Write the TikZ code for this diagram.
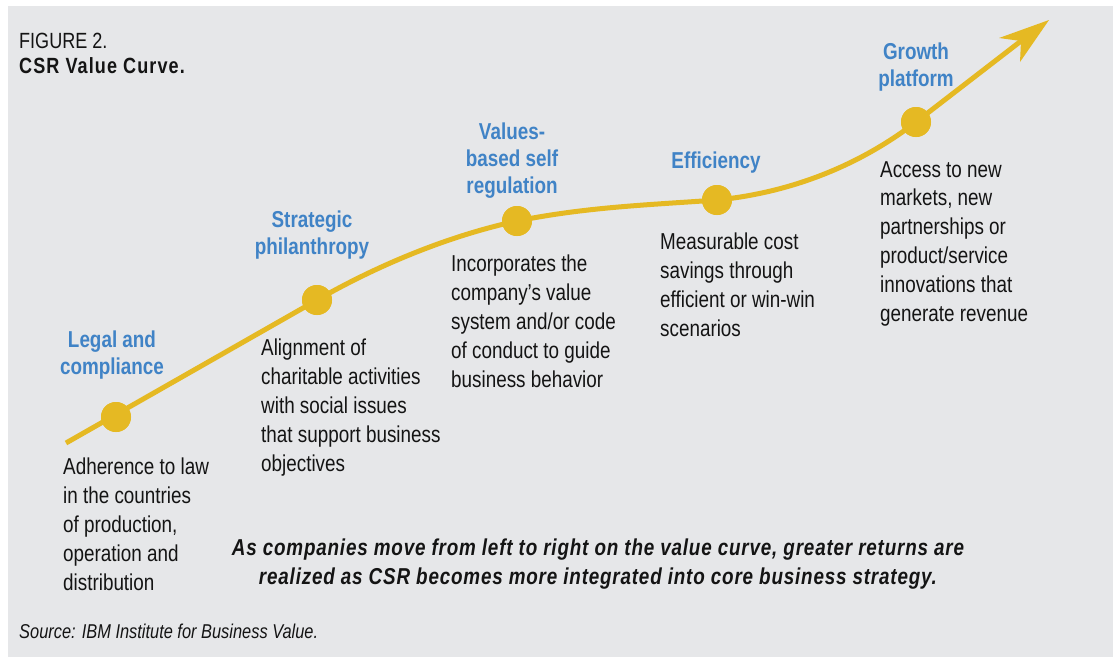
\documentclass[tikz,border=0pt]{standalone}
\usepackage{fontspec}
\setmainfont{Liberation Sans}[FakeStretch=0.82]
\definecolor{bggray}{RGB}{230,231,233}
\definecolor{curveyellow}{RGB}{229,185,35}
\definecolor{titleblue}{RGB}{64,131,198}
\definecolor{textblack}{RGB}{20,20,20}
\tikzset{
  stagetitle/.style={anchor=north, inner sep=0pt, align=center, text=titleblue,
    font=\fontsize{23}{27}\selectfont\bfseries},
  stagedesc/.style={anchor=north west, inner sep=0pt, align=left, text=textblack,
    font=\fontsize{23}{28.8}\selectfont},
  stagedot/.style={circle, fill=curveyellow, minimum size=30pt, inner sep=0pt},
  curveline/.style={draw=curveyellow, line width=5pt},
}
\begin{document}
\begin{tikzpicture}[x=1pt,y=-1pt]
\useasboundingbox (0,0) rectangle (1113,657);
\fill[bggray] (8,6) rectangle (1113,657);

% header
\node[anchor=north west, inner sep=0pt, text=textblack, font=\fontsize{22}{25}\selectfont] (fig) at (19,33) {FIGURE 2.};
\node[anchor=north west, inner sep=0pt, text=textblack, font=\fontsize{22}{25}\selectfont\bfseries\addfontfeature{LetterSpace=5}] (figtitle) at (19,57) {CSR Value Curve.};

% curve
\coordinate (start) at (66,443);
\coordinate (notch) at (1021,41);
\coordinate (tip) at (1049,20);
\coordinate (barbA) at (999,38);
\coordinate (barbB) at (1020,62);
\node[stagedot] (d1) at (116,417) {};
\node[stagedot] (d2) at (317,300) {};
\node[stagedot] (d3) at (517,221) {};
\node[stagedot] (d4) at (717,200) {};
\node[stagedot] (d5) at (916,122) {};

\draw[curveline] (start) -- (d2.center)
  .. controls (387,260) and (457,234) .. (d3.center)
  .. controls (587,207) and (647,205) .. (d4.center)
  .. controls (787,193) and (856,168) .. (d5.center)
  -- (notch);
\fill[curveyellow] (tip) -- (barbA) -- (notch) -- (barbB) -- cycle;
\foreach \p in {(116,417),(317,300),(517,221),(717,200),(916,122)}
  \fill[curveyellow] \p circle (15);

% titles
\node[stagetitle] (t1) at (112,331) {Legal and\\compliance};
\node[stagetitle] (t2) at (312,211) {Strategic\\philanthropy};
\node[stagetitle] (t3) at (512,123) {Values-\\based self\\regulation};
\node[stagetitle] (t4) at (716,152) {Efficiency};
\node[stagetitle] (t5) at (916,43) {Growth\\platform};

% descriptions
\node[stagedesc] (s1) at (63,458) {Adherence to law\\in the countries\\of production,\\operation and\\distribution};
\node[stagedesc] (s2) at (261,339) {Alignment of\\charitable activities\\with social issues\\that support business\\objectives};
\node[stagedesc] (s3) at (451,255) {Incorporates the\\company’s value\\system and/or code\\of conduct to guide\\business behavior};
\node[stagedesc] (s4) at (660,233) {Measurable cost\\savings through\\efficient or win-win\\scenarios};
\node[stagedesc] (s5) at (880,161) {Access to new\\markets, new\\partnerships or\\product/service\\innovations that\\generate revenue};

% conclusion
\node[anchor=north, inner sep=0pt, align=center, text=textblack, font=\fontsize{23}{29}\selectfont\bfseries\itshape\addfontfeature{LetterSpace=3.5}] (concl) at (598,539) {As companies move from left to right on the value curve, greater returns are\\realized as CSR becomes more integrated into core business strategy.};

% source
\node[anchor=north west, inner sep=0pt, text=textblack, font=\fontsize{20}{24}\selectfont\itshape] (src) at (19,624) {Source: IBM Institute for Business Value.};
\end{tikzpicture}
\end{document}
